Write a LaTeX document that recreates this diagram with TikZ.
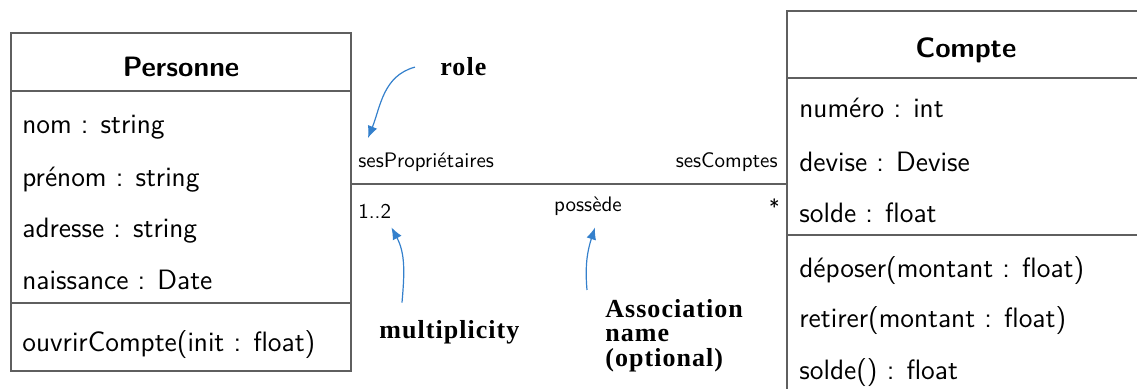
\documentclass[tikz,border=0pt]{standalone}
\usepackage{fontspec}
\usepackage{xcolor}
\usepackage{tikz}
\usetikzlibrary{arrows.meta, positioning}

\newfontfamily\notefont[LetterSpace=4]{Liberation Serif}
\definecolor{noteblue}{RGB}{52,128,204}
\definecolor{umlgray}{RGB}{95,95,95}

\begin{document}
\begin{tikzpicture}[
    x=0.5pt, y=-0.5pt,
    classbox/.style={rectangle, draw=umlgray, line width=0.9pt, inner sep=0pt, outer sep=0pt},
    classname/.style={font=\fontsize{14}{16}\selectfont\sffamily\bfseries, inner sep=0pt, anchor=base},
    member/.style={font=\fontsize{14}{16}\selectfont\sffamily, inner sep=0pt, anchor=base west},
    endlabel/.style={font=\fontsize{10.5}{12}\selectfont\sffamily, inner sep=0pt},
    note/.style={font=\notefont\bfseries\fontsize{13}{12.25}\selectfont, inner sep=0pt, align=left},
    assoc/.style={draw=umlgray, line width=0.8pt},
    pointer/.style={draw=noteblue, line width=0.6pt, -{Latex[length=6pt,width=5pt]}}
]
\useasboundingbox (0,0) rectangle (1137,389);
\clip (0,0) rectangle (1137,389);

% Personne
\node[classbox, anchor=north west, minimum width=170pt, minimum height=29pt] (pers-head) at (11,33) {};
\node[classbox, below=0pt of pers-head, minimum width=170pt, minimum height=106pt] (pers-attr) {};
\node[classbox, below=0pt of pers-attr, minimum width=170pt, minimum height=34pt] (pers-ops) {};
\node[classname] (pers-name) at (181,77) {Personne};
\node[member] (nom) at (22,134) {nom : string};
\node[member] (prenom) at (22,187) {prénom : string};
\node[member] (adresse) at (22,238) {adresse : string};
\node[member] (naissance) at (22,290) {naissance : Date};
\node[member] (ouvrir) at (22,352) {ouvrirCompte(init : float)};

% Compte
\node[classbox, anchor=north west, minimum width=190pt, minimum height=33.5pt] (cpt-head) at (787,11) {};
\node[classbox, below=0pt of cpt-head, minimum width=190pt, minimum height=78.5pt] (cpt-attr) {};
\node[classbox, below=0pt of cpt-attr, minimum width=190pt, minimum height=85pt] (cpt-ops) {};
\node[classname] (cpt-name) at (966,58) {Compte};
\node[member] (numero) at (799,118) {numéro : int};
\node[member] (devise) at (799,172) {devise : Devise};
\node[member] (solde) at (799,223) {solde : float};
\node[member] (deposer) at (799,278) {déposer(montant : float)};
\node[member] (retirer) at (799,328) {retirer(montant : float)};
\node[member] (soldeop) at (799,380) {solde() : float};

% Association
\coordinate (assoc-y) at (0,184);
\draw[assoc] (pers-attr.east |- assoc-y) -- (cpt-attr.west |- assoc-y);
\node[endlabel, anchor=base west] (sesprop) at (358,168) {sesPropriétaires};
\node[endlabel, anchor=base east] (sescpt) at (778,168) {sesComptes};
\node[endlabel, anchor=base west] (onetwo) at (358,219) {1..2};
\node[endlabel, anchor=base] (possede) at (588,212) {possède};
\node[endlabel, anchor=base east] (star) at (780,215) {*};

% Notes
\node[note, anchor=base west] (role) at (440,76) {role};
\node[note, anchor=base west] (multi) at (379,339) {multiplicity};
\node[note, anchor=north west] (assocname) at (605,299) {Association\\name\\(optional)};

\draw[pointer] ([xshift=-12.5pt]role.west) to[out=195, in=68] ([shift={(10,-15)}]sesprop.north west);
\draw[pointer] ([shift={(23,-18)}]multi.north west) to[out=85, in=-62] ([shift={(0,8)}]onetwo.south east);
\draw[pointer] ([shift={(-18,-9)}]assocname.north west) to[out=95, in=252] ([shift={(7,11)}]possede.south);

\end{tikzpicture}
\end{document}
